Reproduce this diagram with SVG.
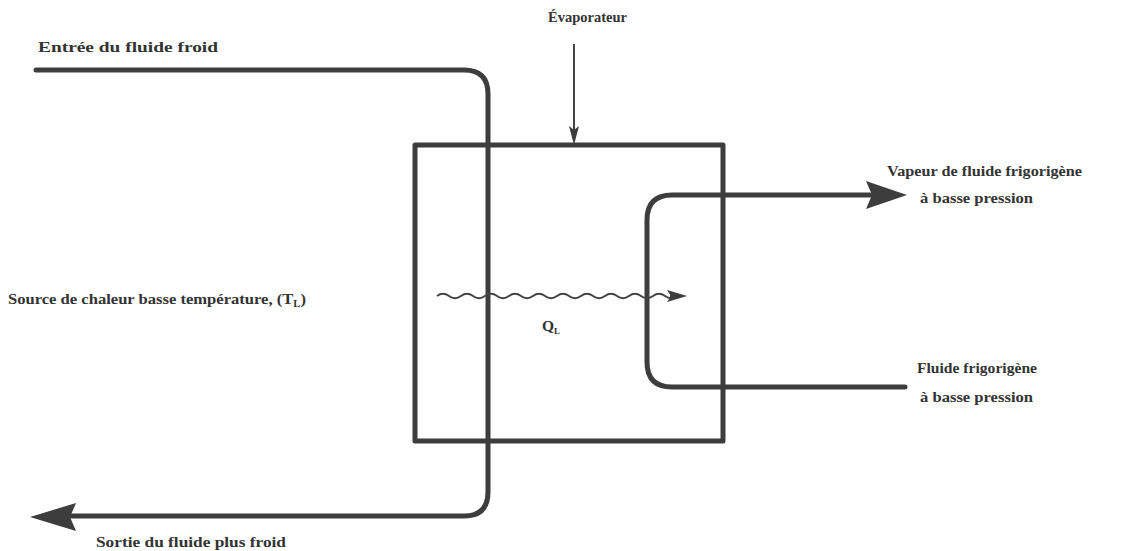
<svg xmlns="http://www.w3.org/2000/svg" width="1124" height="551" viewBox="0 0 1124 551">
<style>
.pipe{fill:none;stroke:#3d3d3d;stroke-width:5;stroke-linecap:round;stroke-linejoin:round}
.box{fill:none;stroke:#3d3d3d;stroke-width:5;stroke-linejoin:round}
.thin{fill:none;stroke:#444;stroke-width:2}
.lbl{font-family:"Liberation Serif","DejaVu Serif",serif;font-weight:bold;font-size:15.5px;fill:#333}
.head{fill:#3d3d3d}
</style>
<rect width="1124" height="551" fill="#fff"/>
<g id="evaporateur">
<rect class="box" x="415" y="145" width="308" height="296"/>
<text class="lbl" x="548" y="22" textLength="79" lengthAdjust="spacingAndGlyphs">Évaporateur</text>
</g>
<g id="source">
<text class="lbl" x="8" y="304" textLength="298" lengthAdjust="spacingAndGlyphs">Source de chaleur basse température, (T<tspan font-size="10" dy="3">L</tspan><tspan dy="-3">)</tspan></text>
</g>
<g id="entree">
<text class="lbl" x="38" y="52" textLength="180" lengthAdjust="spacingAndGlyphs">Entrée du fluide froid</text>
</g>
<g id="sortie">
<text class="lbl" x="96" y="547" textLength="190" lengthAdjust="spacingAndGlyphs">Sortie du fluide plus froid</text>
</g>
<g id="vapeur">
<text class="lbl" x="887" y="176" textLength="195" lengthAdjust="spacingAndGlyphs">Vapeur de fluide frigorigène</text>
<text class="lbl" x="920" y="203" textLength="113" lengthAdjust="spacingAndGlyphs">à basse pression</text>
</g>
<g id="fluide">
<text class="lbl" x="917" y="373" textLength="120" lengthAdjust="spacingAndGlyphs">Fluide frigorigène</text>
<text class="lbl" x="920" y="402" textLength="113" lengthAdjust="spacingAndGlyphs">à basse pression</text>
</g>
<g id="chaleur">
<text class="lbl" x="542" y="331" font-size="15">Q<tspan font-size="9" dy="3">L</tspan></text>
</g>
<g id="connectors">
<path class="pipe" d="M36 70 H464 Q488 70 488 94 V492 Q488 516 464 516 H70"/>
<polygon class="head" points="30,517 76,503 70,517 76,531"/>
<path class="pipe" d="M905 387 H672 Q647 387 647 362 V220 Q647 195 672 195 H870"/>
<polygon class="head" points="907,195 866,181 872,195 866,209"/>
<line class="thin" x1="574" y1="44" x2="574" y2="130"/>
<polygon class="head" points="574,145 569,126 574,130 579,126"/>
<path class="thin" stroke-width="1.8" d="M437 296 q6 -4.5 12 0 t12 0 t12 0 t12 0 t12 0 t12 0 t12 0 t12 0 t12 0 t12 0 t12 0 t12 0 t12 0 t12 0 t12 0 t12 0 t12 0 t12 0 t12 0 t12 0 H670"/>
<polygon class="head" points="687,296 667,290 671,296 667,302"/>
</g>
</svg>
